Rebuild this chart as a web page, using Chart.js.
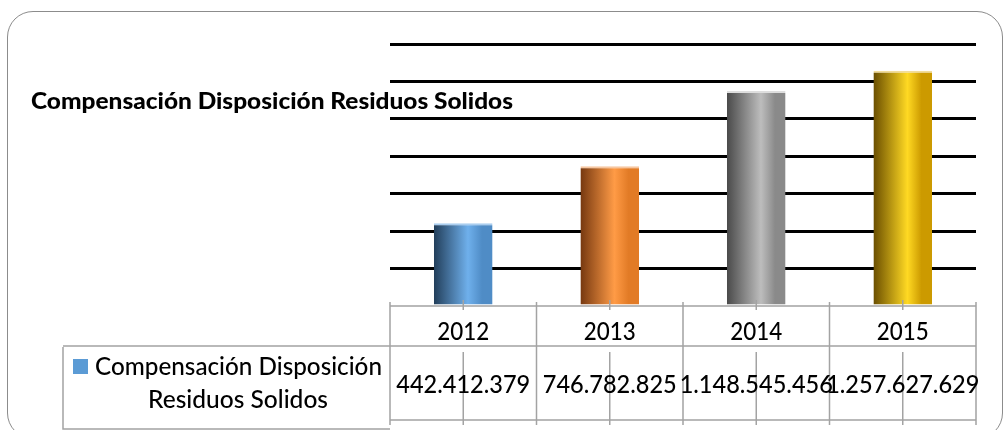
<!DOCTYPE html>
<html>
<head>
<meta charset="utf-8">
<script src="https://cdn.jsdelivr.net/npm/chart.js@4.4.1/dist/chart.umd.min.js"></script>
<style>
  html, body { margin: 0; padding: 0; background: #ffffff; overflow: hidden; }
  #wrap { position: relative; width: 1006px; height: 430px; }
  #frame {
    position: absolute; left: 7px; top: 11px; width: 996px; height: 428px;
    border: 1px solid #8c8c8c; border-radius: 26px; box-sizing: border-box;
  }
  #c { position: absolute; left: 0; top: 0; }
</style>
</head>
<body>
<div id="wrap">
  <div id="frame"></div>
  <canvas id="c" width="1006" height="430"></canvas>
</div>
<script>
// Chart content
const chartTitle = 'Compensación Disposición Residuos Solidos';
const seriesName = ['Compensación Disposición', 'Residuos Solidos'];
const years = ['2012', '2013', '2014', '2015'];
const amounts = [442412379, 746782825, 1148545456, 1257627629];
const axisMax = 1400000000;
const axisStep = 200000000;

// Cylinder-like shading per bar: [dark edge, highlight, right edge, top rim]
const barShades = [
  ['#223e5a', '#6fb0ec', '#4f8cc6', '#a9cdef'],
  ['#763810', '#ff9b46', '#e27b26', '#f6c6a0'],
  ['#4a4a4a', '#bdbdbd', '#8a8a8a', '#dedede'],
  ['#6a4e00', '#ffd923', '#cc9a00', '#f1dc9a']
];

const FONT = 'Lato, "Open Sans", "Liberation Sans", sans-serif';

function fmt(n) {
  return String(n).replace(/\B(?=(\d{3})+(?!\d))/g, '.');
}

// Draws text with a horizontal scale so that `sample` spans `span` pixels
function fitText(ctx, text, x, y, font, sample, span, align) {
  ctx.font = font;
  const sx = span / ctx.measureText(sample).width;
  ctx.save();
  ctx.translate(x, y);
  ctx.scale(sx, 1);
  ctx.textAlign = align;
  ctx.fillText(text, 0, 0);
  ctx.restore();
}

function barGradient(context) {
  const chart = context.chart;
  const area = chart.chartArea;
  const i = context.dataIndex;
  const shade = barShades[i % barShades.length];
  if (!area) return shade[1];
  const xs = chart.scales.x;
  const cw = (area.right - area.left) / years.length;
  const half = cw * 0.4 / 2;
  const cx = xs.getPixelForValue(i);
  const g = chart.ctx.createLinearGradient(cx - half, 0, cx + half, 0);
  g.addColorStop(0, shade[0]);
  g.addColorStop(0.58, shade[1]);
  g.addColorStop(0.82, shade[2]);
  g.addColorStop(1, shade[2]);
  return g;
}

// Title, data table and legend key drawn beneath the plot
const tablePlugin = {
  id: 'dataTable',
  afterDraw(chart) {
    const ctx = chart.ctx;
    const area = chart.chartArea;
    const xs = chart.scales.x;
    const n = years.length;
    const cw = (area.right - area.left) / n;
    const top = area.bottom;
    const headBottom = top + 40;
    const rowBottom = headBottom + 74;
    const left = area.left;
    const right = area.right;

    ctx.save();
    ctx.strokeStyle = '#a3a3a3';
    ctx.lineWidth = 1.5;

    // horizontal rules
    ctx.beginPath();
    ctx.moveTo(left, top); ctx.lineTo(right, top);
    ctx.moveTo(63, headBottom); ctx.lineTo(right, headBottom);
    ctx.moveTo(left, rowBottom); ctx.lineTo(right, rowBottom);
    // column rules
    for (let i = 0; i <= n; i++) {
      const x = left + i * cw;
      ctx.moveTo(x, top - 4); ctx.lineTo(x, rowBottom + 5);
    }
    // category tick marks
    for (let i = 0; i < n; i++) {
      const x = xs.getPixelForValue(i);
      ctx.moveTo(x, top - 6); ctx.lineTo(x, top + 4);
      ctx.moveTo(x, headBottom + 6); ctx.lineTo(x, rowBottom + 5);
    }
    // legend key cell
    ctx.moveTo(63, headBottom + 1); ctx.lineTo(63, 429);
    ctx.lineTo(left, 429);
    ctx.stroke();

    ctx.fillStyle = '#000000';
    ctx.textBaseline = 'alphabetic';
    const cellFont = '500 24px ' + FONT;

    // header and value texts
    for (let i = 0; i < n; i++) {
      const x = xs.getPixelForValue(i);
      fitText(ctx, years[i], x, top + 34, cellFont, years[0], 52, 'center');
      fitText(ctx, fmt(amounts[i]), x, headBottom + 47, cellFont, fmt(amounts[0]), 134, 'center');
    }

    // legend key
    ctx.fillStyle = '#5b9bd5';
    ctx.fillRect(73, 359, 15, 15);
    ctx.fillStyle = '#000000';
    fitText(ctx, seriesName[0], 95, 375, cellFont, seriesName[0], 287, 'left');
    fitText(ctx, seriesName[1], 238, 408, cellFont, seriesName[1], 180, 'center');

    // chart title
    fitText(ctx, chartTitle, 31, 109, '900 22.5px ' + FONT, chartTitle, 482, 'left');
    ctx.restore();
  }
};

new Chart(document.getElementById('c'), {
  type: 'bar',
  data: {
    labels: years,
    datasets: [{
      label: seriesName.join(' '),
      data: amounts,
      backgroundColor: barGradient,
      borderColor: (c) => barShades[c.dataIndex % barShades.length][3],
      borderWidth: { top: 2, left: 0, right: 0, bottom: 0 },
      borderSkipped: false,
      barPercentage: 0.4,
      categoryPercentage: 1.0
    }]
  },
  options: {
    responsive: false,
    animation: false,
    devicePixelRatio: 1,
    layout: { padding: { left: 390, right: 30, top: 44, bottom: 124 } },
    plugins: {
      legend: { display: false },
      title: { display: false },
      tooltip: { enabled: false }
    },
    scales: {
      x: { display: false },
      y: {
        min: 0,
        max: axisMax,
        afterFit(axis) { axis.width = 0; },
        ticks: { display: false, stepSize: axisStep },
        border: { display: false },
        grid: {
          drawTicks: false,
          lineWidth: 3,
          color: (c) => (c.tick && c.tick.value === 0) ? 'rgba(0,0,0,0)' : '#000000'
        }
      }
    }
  },
  plugins: [tablePlugin]
});
</script>
</body>
</html>
